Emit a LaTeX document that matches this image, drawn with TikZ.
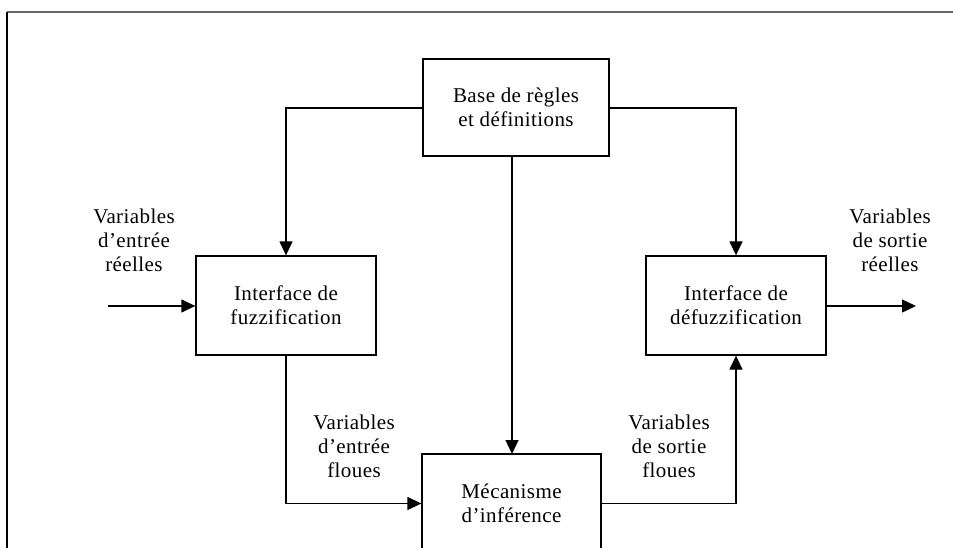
\documentclass[tikz,border=0pt]{standalone}
\usepackage{fontspec}
\setmainfont{Liberation Serif}[LetterSpace=2]
\usetikzlibrary{arrows.meta}
\begin{document}
\begin{tikzpicture}[x=1pt,y=-1pt,
  box/.style={draw,line width=1.3pt,align=center,inner sep=0pt,font=\fontsize{21}{24}\selectfont},
  lbl/.style={align=center,inner sep=0pt,font=\fontsize{21}{24}\selectfont},
  conn/.style={line width=1.3pt,-{Triangle[length=14pt,width=13pt]}},
  plain/.style={line width=1.3pt}]
\useasboundingbox (0,0) rectangle (953,548);
\clip (0,0) rectangle (953,548);
\fill[white] (0,0) rectangle (953,548);
% frame
\draw[line width=1.3pt,gray!80!black] (7,12) -- (953,12);
\draw[line width=1.3pt] (7,12) -- (7,548);
% boxes
\node[box,minimum width=186pt,minimum height=97pt] (base) at (516,107.5) {Base de règles\\et définitions};
\node[box,minimum width=180pt,minimum height=99pt] (fuzz) at (286,305.5) {Interface de\\fuzzification};
\node[box,minimum width=180pt,minimum height=99pt] (defuzz) at (736,305.5) {Interface de\\défuzzification};
\node[box,minimum width=179pt,minimum height=99pt] (meca) at (511.5,503.5) {Mécanisme\\d’inférence};
% labels
\node[lbl] (inR) at (134,240) {Variables\\d’entrée\\réelles};
\node[lbl] (outR) at (890,240) {Variables\\de sortie\\réelles};
\node[lbl] (inF) at (354,446) {Variables\\d’entrée\\floues};
\node[lbl] (outF) at (669,446) {Variables\\de sortie\\floues};
% coordinates
\coordinate (inStart) at (108,306);
\coordinate (outEnd) at (916,306);
% connectors
\draw[conn] (base.west |- 0,108) -| (fuzz.north);
\draw[conn] (base.east |- 0,108) -| (defuzz.north);
\draw[conn] (512,156) -- (512,454);
\draw[conn] (inStart) -- (fuzz.west |- inStart);
\draw[conn] (defuzz.east |- outEnd) -- (outEnd);
\draw[conn] (fuzz.south) |- (meca.west |- 0,503.5);
\draw[conn] (meca.east |- 0,503.5) -| (defuzz.south);
\end{tikzpicture}
\end{document}
